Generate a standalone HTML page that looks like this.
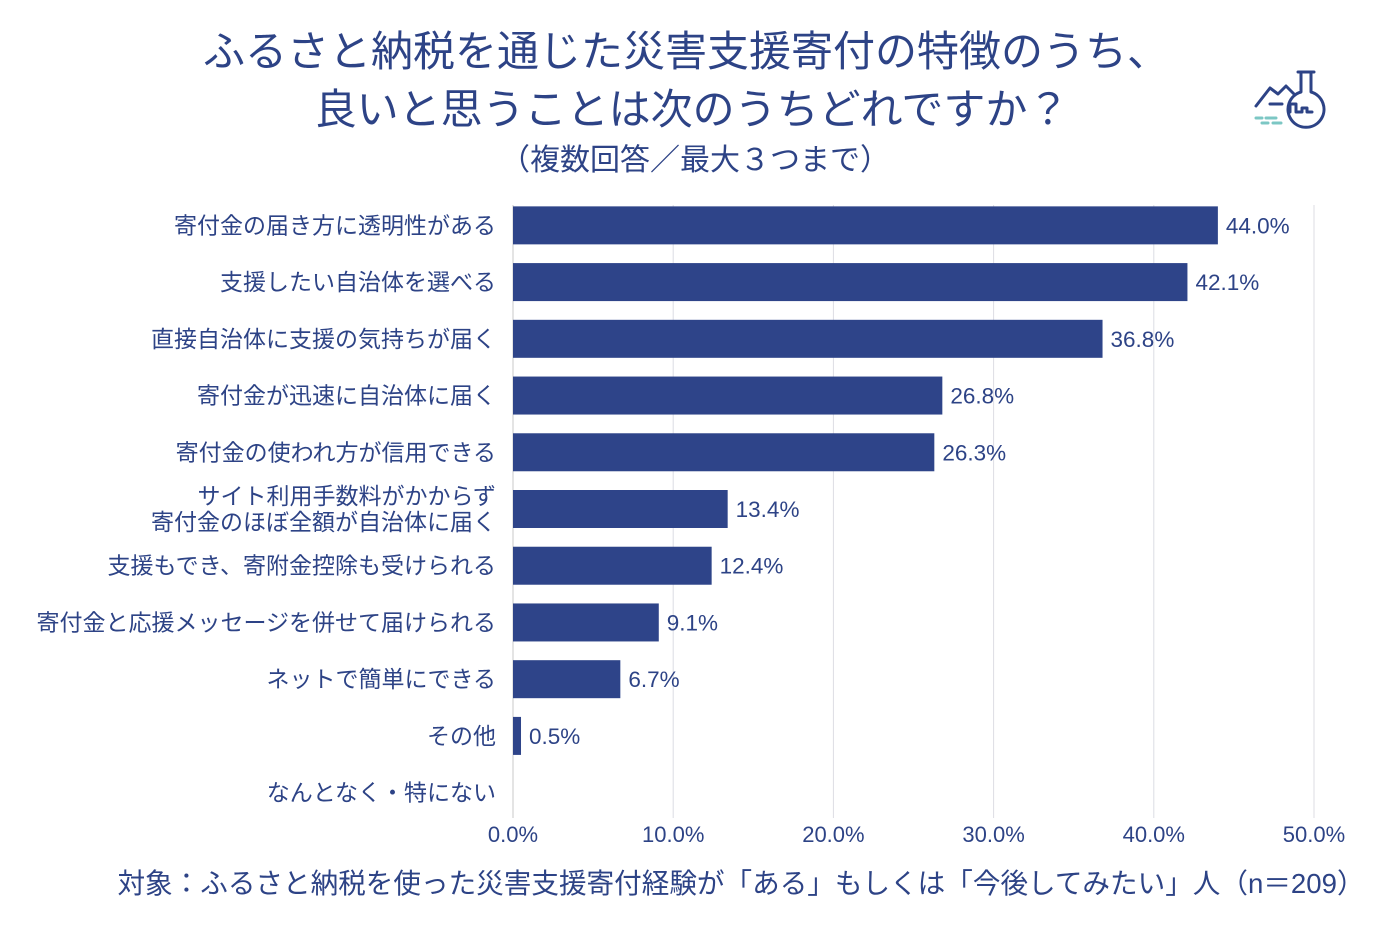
<!DOCTYPE html>
<html><head><meta charset="utf-8"><style>
body{margin:0;width:1400px;height:920px;background:#fff;overflow:hidden;font-family:"Liberation Sans","Noto Sans CJK JP",sans-serif;color:#2d4386}
svg text{font-family:"Liberation Sans","Noto Sans CJK JP",sans-serif;fill:#2d4386}
</style></head><body>
<svg id="chart" width="1400" height="920" xmlns="http://www.w3.org/2000/svg">
<text x="686" y="66" font-size="42" text-anchor="middle">ふるさと納税を通じた災害支援寄付の特徴のうち、</text>
<text x="692" y="124" font-size="42" text-anchor="middle">良いと思うことは次のうちどれですか？</text>
<text x="695" y="170" font-size="30" text-anchor="middle">（複数回答／最大３つまで）</text>
<g fill="none" stroke="#2d4386" stroke-width="3" stroke-linecap="round" stroke-linejoin="round">
<path d="M1298 72h16M1301 72v20a18 18 0 1 0 10 0v-20"/>
<path d="M1256 106l14-18 8 6 8-8 8 8"/>
<path d="M1270 104h12M1290 112v-8h6v8h6v-4h5v4h5"/>
<path stroke="#7cc7c4" d="M1256 118h6M1266 118h10M1262 123h6M1273 123h8"/>
</g>
<g id="grid"></g><g id="bars"></g><g id="labels"></g>
<text x="741" y="893" font-size="27.6" text-anchor="middle">対象：ふるさと納税を使った災害支援寄付経験が「ある」もしくは「今後してみたい」人（n＝209）</text>
</svg>
<script>
const categories=[["寄付金の届き方に透明性がある"],["支援したい自治体を選べる"],["直接自治体に支援の気持ちが届く"],["寄付金が迅速に自治体に届く"],["寄付金の使われ方が信用できる"],["サイト利用手数料がかからず","寄付金のほぼ全額が自治体に届く"],["支援もでき、寄附金控除も受けられる"],["寄付金と応援メッセージを併せて届けられる"],["ネットで簡単にできる"],["その他"],["なんとなく・特にない"]];
const values=[44.0,42.1,36.8,26.8,26.3,13.4,12.4,9.1,6.7,0.5,null];
const ticks=[0,10,20,30,40,50];
const NS="http://www.w3.org/2000/svg";
const X0=513,X1=1314,PT=197,PB=821;
const xs=v=>X0+(X1-X0)*v/50;
const rowH=(PB-PT)/categories.length;
const yc=i=>PT+rowH*(i+0.5);
function mk(t,a,p){const e=document.createElementNS(NS,t);for(const k in a)e.setAttribute(k,a[k]);p.appendChild(e);return e;}
const g=document.getElementById('grid'),b=document.getElementById('bars'),l=document.getElementById('labels');
ticks.forEach(t=>{
 const ln=mk('line',{x1:xs(t),x2:xs(t),y1:205,y2:818,stroke:t===0?'#c8c8c8':'#dcdde3','stroke-width':1},g);
 
 
 const tx=mk('text',{x:xs(t),y:842,'font-size':22,'text-anchor':'middle'},g);
 tx.textContent=t.toFixed(1)+'%';
 
 
});
categories.forEach((c,i)=>{
 const y=yc(i);
 const ct=mk('text',{x:496,'font-size':23,'text-anchor':'end'},l);
 
 
 c.forEach((s,j)=>{const ts=mk('tspan',{x:496,y:y+8+(j-(c.length-1)/2)*26},ct);ts.textContent=s;});
 const v=values[i];
 if(v!=null){
  const r=mk('rect',{x:X0,y:y-19,width:xs(v)-X0,height:38,fill:'#2e4489'},b);
  
  
  const vt=mk('text',{x:xs(v)+8,y:y+8,'font-size':22.5},l);
  vt.textContent=v.toFixed(1)+'%';
  
  
 }
});
</script>
</body></html>
